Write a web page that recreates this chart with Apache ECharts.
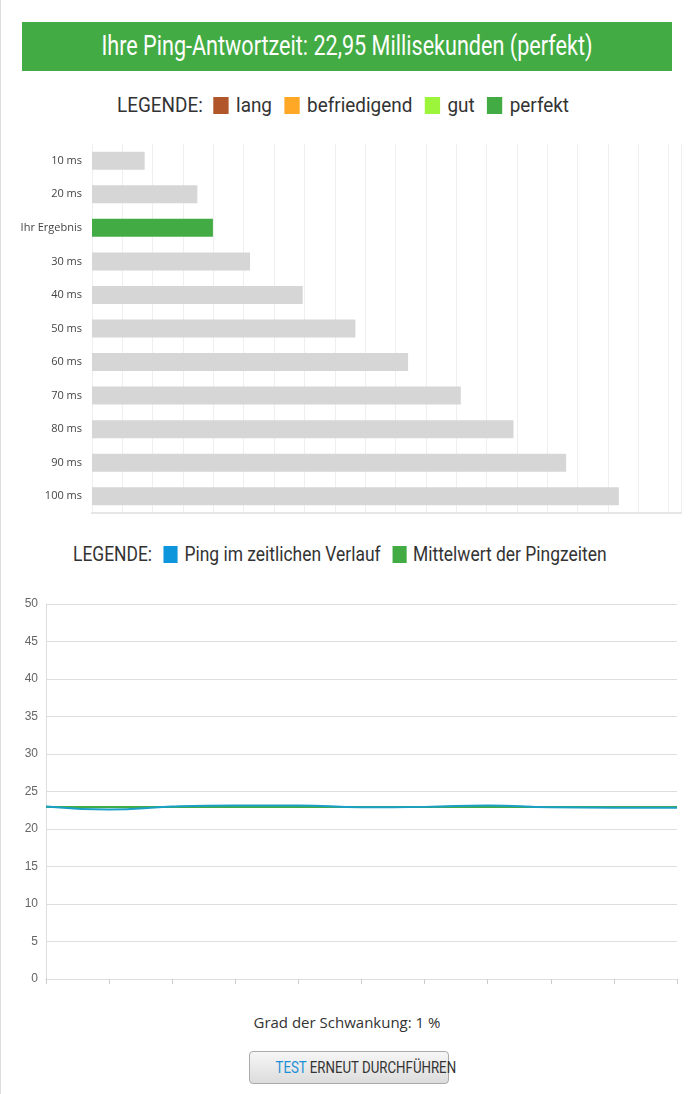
<!DOCTYPE html>
<html>
<head>
<meta charset="utf-8">
<script src="https://cdn.jsdelivr.net/npm/echarts@6/dist/echarts.min.js"></script>
<style>
  body { margin: 0; width: 692px; height: 1094px; background: #fff; position: relative; border-left: 1px solid #ddd; box-sizing: border-box; font-family: "Open Sans", sans-serif; }
  .cond { font-family: "Roboto", sans-serif; white-space: nowrap; }
  .sq { display: inline-block; transform-origin: center; }
  #title { position: absolute; left: 21px; top: 22px; width: 650px; height: 49px; background: #43ab44; color: #fff; font-size: 27px; line-height: 49px; text-align: center; }
  #title .sq { transform: scaleX(0.8); }
  .legend { position: absolute; font-size: 21px; color: #333; transform-origin: left center; }
  .legend i { display: inline-block; width: 17px; height: 17px; vertical-align: -2px; margin: 0 8px 0 12px; }
  #barChart { position: absolute; left: 0; top: 140px; width: 692px; height: 380px; }
  #lineChart { position: absolute; left: 0; top: 595px; width: 692px; height: 395px; }
  #schwank { position: absolute; top: 1012px; width: 692px; text-align: center; font-size: 15px; color: #333; }
  #btn { position: absolute; left: 248px; top: 1051px; width: 198px; height: 31px; border: 1px solid #aaa; border-radius: 4px; background: linear-gradient(#f6f6f6, #dcdcdc); text-align: center; line-height: 31px; font-size: 17px; color: #333; }
  #btn .sq { transform: scaleX(0.78); }
  #btn span span { color: #1a8fd6; }
</style>
</head>
<body>
<div id="title" class="cond"><span class="sq">Ihre Ping-Antwortzeit: 22,95 Millisekunden (perfekt)</span></div>
<div class="legend cond" style="top:93px;left:116px;transform:scaleX(0.9);">LEGENDE:<i style="background:#b0562a"></i>lang<i style="background:#ffa826;margin-left:14px"></i>befriedigend<i style="background:#9cf53a;margin-left:14px"></i>gut<i style="background:#43ab44;margin-left:14px"></i>perfekt</div>
<div id="barChart"></div>
<div class="legend cond" style="top:542px;left:72px;transform:scaleX(0.83);">LEGENDE:<i style="background:#0e96dc;margin-left:14px"></i>Ping im zeitlichen Verlauf<i style="background:#43ab44;margin-left:14px"></i>Mittelwert der Pingzeiten</div>
<div id="lineChart"></div>
<div id="schwank">Grad der Schwankung: 1 %</div>
<div id="btn" class="cond"><span class="sq"><span>TEST</span> ERNEUT DURCHFÜHREN</span></div>
<script>
var barCategories = ["10 ms", "20 ms", "Ihr Ergebnis", "30 ms", "40 ms", "50 ms", "60 ms", "70 ms", "80 ms", "90 ms", "100 ms"];
var barValues = [10, 20, 22.95, 30, 40, 50, 60, 70, 80, 90, 100];
var resultIndex = 2;

var pingPoints = ["1", "2", "3", "4", "5", "6", "7", "8", "9", "10", "11"];
var pingValues = [23.0, 22.6, 23.0, 23.15, 23.15, 22.9, 22.95, 23.15, 22.9, 22.85, 22.85];
var pingMean = 22.95;

var barChart = echarts.init(document.getElementById('barChart'));
barChart.setOption({
  animation: false,
  grid: { left: 91, right: 12, top: 4, bottom: 7 },
  xAxis: {
    type: 'value', min: 0, max: 111.8, interval: 5.76,
    axisLabel: { show: false }, axisTick: { show: false },
    axisLine: { show: true, lineStyle: { color: '#e6e6e6', width: 2 } },
    splitLine: { show: true, lineStyle: { color: '#efefef' } }
  },
  yAxis: {
    type: 'category', inverse: true, data: barCategories,
    axisLine: { show: false }, axisTick: { show: false },
    axisLabel: { color: '#444', fontSize: 11, fontFamily: 'Open Sans', margin: 10 }
  },
  series: [{
    type: 'bar', barWidth: 18,
    data: barValues.map(function (v, i) {
      return { value: v, itemStyle: { color: i == resultIndex ? '#43ab44' : '#d6d6d6' } };
    })
  }]
});

var lineChart = echarts.init(document.getElementById('lineChart'));
lineChart.setOption({
  animation: false,
  grid: { left: 45, right: 16, top: 9, bottom: 11 },
  xAxis: {
    type: 'category', boundaryGap: false, data: pingPoints,
    axisLabel: { show: false },
    axisTick: { show: true, lineStyle: { color: '#ccc' } },
    axisLine: { lineStyle: { color: '#ddd' } }
  },
  yAxis: {
    type: 'value', min: 0, max: 50, interval: 5,
    axisLabel: { color: '#666', fontSize: 12, fontFamily: 'Liberation Sans' },
    axisLine: { show: true, lineStyle: { color: '#ddd' } },
    splitLine: { lineStyle: { color: '#ddd' } }
  },
  series: [{
    type: 'line', data: pingPoints.map(function () { return pingMean; }),
    showSymbol: false, lineStyle: { color: '#43ab44', width: 2 }, itemStyle: { color: '#43ab44' }
  }, {
    type: 'line', data: pingValues, smooth: true,
    showSymbol: false, lineStyle: { color: '#1a9fc6', width: 2 }, itemStyle: { color: '#1a9fc6' }
  }]
});
</script>
</body>
</html>
